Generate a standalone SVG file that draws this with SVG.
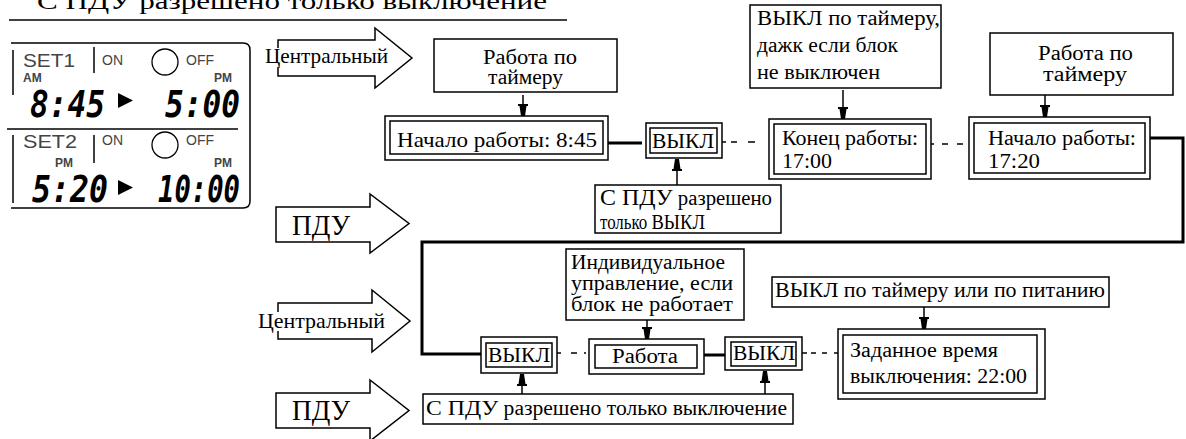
<svg xmlns="http://www.w3.org/2000/svg" width="1186" height="439" viewBox="0 0 1186 439" font-size="20">
<style>
  .bx{fill:#fff;stroke:#000;stroke-width:1.5}
  .t{font-family:"Liberation Serif","DejaVu Serif",serif;fill:#000}
  .thick{fill:none;stroke:#000;stroke-width:3}
  .ln{fill:none;stroke:#000;stroke-width:1.5}
  .dash{fill:none;stroke:#000;stroke-width:1.6}
  .lcd{font-family:"Liberation Sans",Arial,sans-serif;fill:#444}
  .dig{font-family:"DejaVu Sans Mono","Liberation Mono",monospace;font-style:italic;font-weight:bold;fill:#000}
  .arr{fill:#fff;stroke:#000;stroke-width:1.5}
</style>
<defs>
  <marker id="pin" markerUnits="userSpaceOnUse" markerWidth="14" markerHeight="14" viewBox="-12 -7 14 14" refX="0" refY="0" orient="auto">
    <path d="M-12,-5 L-10,-5 L-10,-3.5 L0,-2 L0,2 L-10,3.5 L-10,5 L-12,5 Z" fill="#000"/>
  </marker>
</defs>
<rect width="1186" height="439" fill="#fff"/>

<g id="title">
  <text class="t" x="37" y="9" font-size="24" textLength="510" lengthAdjust="spacingAndGlyphs">С ПДУ разрешено только выключение</text>
  <line x1="9" y1="20" x2="567" y2="20" stroke="#000" stroke-width="1.5"/>
</g>

<g id="lcd-panel">
  <path d="M11,43 H243 Q250,43 250,50 V201 Q250,208 243,208 H11" class="ln"/>
  <line x1="13" y1="50" x2="13" y2="95" class="ln"/>
  <line x1="7" y1="129" x2="238" y2="129" class="ln"/>
  <line x1="13" y1="135" x2="13" y2="203" class="ln"/>
  <text class="lcd" x="23" y="67" font-size="18" textLength="52" lengthAdjust="spacingAndGlyphs">SET1</text>
  <text class="lcd" x="23" y="82" font-size="12" font-weight="bold" fill="#333">AM</text>
  <line x1="94" y1="47" x2="94" y2="73" class="ln"/>
  <text class="lcd" x="102" y="65" font-size="14" fill="#222">ON</text>
  <circle cx="165" cy="62" r="13" fill="none" stroke="#000" stroke-width="1.3"/>
  <text class="lcd" x="186" y="65" font-size="14" fill="#222">OFF</text>
  <text class="lcd" x="214" y="82" font-size="12" font-weight="bold" fill="#333">PM</text>
  <text class="dig" x="30" y="117" font-size="38" textLength="75" lengthAdjust="spacingAndGlyphs">8:45</text>
  <polygon points="118,93 133,100.5 118,108" fill="#000"/>
  <text class="dig" x="165" y="117" font-size="38" textLength="75" lengthAdjust="spacingAndGlyphs">5:00</text>

  <text class="lcd" x="23" y="148" font-size="18" textLength="54" lengthAdjust="spacingAndGlyphs">SET2</text>
  <text class="lcd" x="55" y="167" font-size="12" font-weight="bold" fill="#333">PM</text>
  <line x1="94" y1="135" x2="94" y2="163" class="ln"/>
  <text class="lcd" x="102" y="145" font-size="14" fill="#222">ON</text>
  <circle cx="165" cy="145" r="13" fill="none" stroke="#000" stroke-width="1.3"/>
  <text class="lcd" x="186" y="145" font-size="14" fill="#222">OFF</text>
  <text class="lcd" x="214" y="167" font-size="12" font-weight="bold" fill="#333">PM</text>
  <text class="dig" x="32" y="202" font-size="38" textLength="76" lengthAdjust="spacingAndGlyphs">5:20</text>
  <polygon points="118,180 133,187.5 118,195" fill="#000"/>
  <text class="dig" x="158" y="202" font-size="38" textLength="82" lengthAdjust="spacingAndGlyphs">10:00</text>
</g>

<g id="arrow-central-1">
  <polygon class="arr" points="278,40 375,40 375,28 412,58 375,88 375,76 278,76"/>
  <rect x="266" y="48" width="20" height="19" fill="#fff"/>
  <text class="t" x="265" y="63" font-size="21" textLength="123" lengthAdjust="spacingAndGlyphs">Центральный</text>
</g>
<g id="arrow-pdu-1">
  <polygon class="arr" points="276,207 370,207 370,194 409,223.5 370,253 370,242 276,242"/>
  <text class="t" x="292" y="235" font-size="29" textLength="58" lengthAdjust="spacingAndGlyphs">ПДУ</text>
</g>
<g id="arrow-central-2">
  <polygon class="arr" points="278,303 372,303 372,290 410,321 372,352 372,339 278,339"/>
  <rect x="258" y="312" width="24" height="19" fill="#fff"/>
  <text class="t" x="258" y="328" font-size="21" textLength="127" lengthAdjust="spacingAndGlyphs">Центральный</text>
</g>
<g id="arrow-pdu-2">
  <polygon class="arr" points="276,393 370,393 370,380 409,410.5 370,441 370,428 276,428"/>
  <text class="t" x="292" y="420" font-size="29" textLength="58" lengthAdjust="spacingAndGlyphs">ПДУ</text>
</g>

<g id="connectors">
  <line x1="608" y1="143" x2="642" y2="143" class="thick"/>
  <path d="M1150,138 H1183 V242 H422 V354 H481" class="thick"/>
  <line x1="704" y1="355" x2="725" y2="355" class="thick"/>
  <path d="M722,142 H726 M731,142 H737 M748,142 H755" class="dash"/>
  <path d="M931,144 H934 M942,144 H948 M957,144 H963" class="dash"/>
  <path d="M557,353 H561 M571,353 H577 M584,353 H586" class="dash" stroke="#666"/>
  <path d="M802,353 H807 M811,353 H816 M822,353 H827 M834,353 H838" class="dash"/>
  <line x1="523" y1="95" x2="523" y2="116" class="ln" marker-end="url(#pin)"/>
  <line x1="843" y1="90" x2="843" y2="119" class="ln" marker-end="url(#pin)"/>
  <line x1="1045" y1="95" x2="1045" y2="117" class="ln" marker-end="url(#pin)"/>
  <line x1="677" y1="185" x2="677" y2="159" class="ln" marker-end="url(#pin)"/>
  <line x1="647" y1="320" x2="647" y2="339" class="ln" marker-end="url(#pin)"/>
  <line x1="924" y1="307" x2="924" y2="329" class="ln" marker-end="url(#pin)"/>
  <line x1="522" y1="394" x2="522" y2="374" class="ln" marker-end="url(#pin)"/>
  <line x1="765" y1="394" x2="765" y2="371" class="ln" marker-end="url(#pin)"/>
</g>

<g id="node-timer1">
  <rect class="bx" x="434" y="39" width="183" height="53"/>
  <text class="t" x="483" y="64" textLength="94" lengthAdjust="spacingAndGlyphs">Работа по</text>
  <text class="t" x="488" y="84" textLength="75" lengthAdjust="spacingAndGlyphs">таймеру</text>
</g>
<g id="node-start1">
  <rect class="bx" x="385" y="116" width="223" height="44"/>
  <rect class="bx" x="390" y="121" width="213" height="33"/>
  <text class="t" x="397" y="147" font-size="21" textLength="200" lengthAdjust="spacingAndGlyphs">Начало работы:  8:45</text>
</g>
<g id="node-off1">
  <rect class="bx" x="646" y="123" width="76" height="35"/>
  <rect class="bx" x="650" y="128" width="67" height="25"/>
  <text class="t" x="652" y="148" font-size="21" textLength="62" lengthAdjust="spacingAndGlyphs">ВЫКЛ</text>
</g>
<g id="node-pdu-off1">
  <rect class="bx" x="595" y="185" width="186" height="48"/>
  <text class="t" x="600" y="205" textLength="172" lengthAdjust="spacingAndGlyphs"><tspan font-size="23">С ПДУ</tspan> разрешено</text>
  <text class="t" x="600" y="229" textLength="105" lengthAdjust="spacingAndGlyphs">только <tspan font-size="22">ВЫКЛ</tspan></text>
</g>
<g id="node-timer-off-note">
  <rect class="bx" x="750" y="5" width="191" height="83"/>
  <text class="t" x="757" y="25" textLength="183" lengthAdjust="spacingAndGlyphs">ВЫКЛ по таймеру,</text>
  <text class="t" x="757" y="52" textLength="141" lengthAdjust="spacingAndGlyphs">дажк если блок</text>
  <text class="t" x="757" y="79" textLength="123" lengthAdjust="spacingAndGlyphs">не выключен</text>
</g>
<g id="node-end1">
  <rect class="bx" x="769" y="119" width="162" height="60"/>
  <rect class="bx" x="774" y="124" width="152" height="50"/>
  <text class="t" x="782" y="145" textLength="136" lengthAdjust="spacingAndGlyphs">Конец работы:</text>
  <text class="t" x="782" y="168" textLength="50" lengthAdjust="spacingAndGlyphs">17:00</text>
</g>
<g id="node-timer2">
  <rect class="bx" x="990" y="33" width="183" height="62"/>
  <text class="t" x="1038" y="60" textLength="95" lengthAdjust="spacingAndGlyphs">Работа по</text>
  <text class="t" x="1043" y="81" textLength="84" lengthAdjust="spacingAndGlyphs">таймеру</text>
</g>
<g id="node-start2">
  <rect class="bx" x="969" y="117" width="181" height="62"/>
  <rect class="bx" x="974" y="123" width="171" height="50"/>
  <text class="t" x="988" y="145" textLength="148" lengthAdjust="spacingAndGlyphs">Начало работы:</text>
  <text class="t" x="988" y="168" textLength="52" lengthAdjust="spacingAndGlyphs">17:20</text>
</g>
<g id="node-individual">
  <rect class="bx" x="566" y="249" width="178" height="71"/>
  <text class="t" x="571" y="269" textLength="154" lengthAdjust="spacingAndGlyphs">Индивидуальное</text>
  <text class="t" x="571" y="290" textLength="162" lengthAdjust="spacingAndGlyphs">управление, если</text>
  <text class="t" x="571" y="311" textLength="162" lengthAdjust="spacingAndGlyphs">блок не работает</text>
</g>
<g id="node-off2">
  <rect class="bx" x="481" y="337" width="76" height="36"/>
  <rect class="bx" x="486" y="343" width="66" height="24"/>
  <text class="t" x="488" y="362" font-size="21" textLength="62" lengthAdjust="spacingAndGlyphs">ВЫКЛ</text>
</g>
<g id="node-work">
  <rect class="bx" x="589" y="339" width="115" height="35"/>
  <rect class="bx" x="595" y="345" width="102" height="23"/>
  <text class="t" x="612" y="363" textLength="66" lengthAdjust="spacingAndGlyphs">Работа</text>
</g>
<g id="node-off3">
  <rect class="bx" x="725" y="337" width="77" height="33"/>
  <rect class="bx" x="731" y="342" width="65" height="24"/>
  <text class="t" x="733" y="360" font-size="21" textLength="62" lengthAdjust="spacingAndGlyphs">ВЫКЛ</text>
</g>
<g id="node-pdu-off2">
  <rect class="bx" x="423" y="394" width="370" height="30"/>
  <text class="t" x="426" y="415" textLength="361" lengthAdjust="spacingAndGlyphs"><tspan font-size="22">С ПДУ</tspan> разрешено только выключение</text>
</g>
<g id="node-timer-power">
  <rect class="bx" x="772" y="277" width="337" height="30"/>
  <text class="t" x="775" y="297" textLength="330" lengthAdjust="spacingAndGlyphs">ВЫКЛ по таймеру или по питанию</text>
</g>
<g id="node-set-off">
  <rect class="bx" x="838" y="329" width="207" height="70"/>
  <rect class="bx" x="843" y="335" width="194" height="58"/>
  <text class="t" x="850" y="357" textLength="148" lengthAdjust="spacingAndGlyphs">Заданное время</text>
  <text class="t" x="850" y="383" textLength="177" lengthAdjust="spacingAndGlyphs">выключения: 22:00</text>
</g>
</svg>
